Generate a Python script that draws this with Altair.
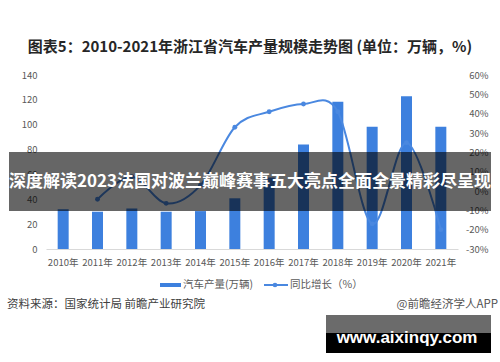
import altair as alt
import pandas as pd

years = ["2010年", "2011年", "2012年", "2013年", "2014年", "2015年",
         "2016年", "2017年", "2018年", "2019年", "2020年", "2021年"]
production = [32, 30, 32.6, 30, 30.5, 40.8, 57.5, 84, 118.5, 98.4, 123, 98.4]
growth = [None, -4.3, 7.4, -6.4, 3, 33, 41, 45, 41, -17, 25, -20]

title_text = "图表5：2010-2021年浙江省汽车产量规模走势图 (单位：万辆，%)"
legend_bar = "汽车产量(万辆)"
legend_line = "同比增长（%）"
source_text = "资料来源：国家统计局 前瞻产业研究院"
credit_text = "@前瞻经济学人APP"
banner_text = "深度解读2023法国对波兰巅峰赛事五大亮点全面全景精彩尽呈现"
site_text = "www.aixinqy.com"

FONT = "Noto Sans CJK SC"
BAR_C = "#3d80de"
LINE_C = "#4a88e0"
GRAY = "#595959"

df = pd.DataFrame({"year": years, "prod": production, "growth": growth})
line_df = df.dropna(subset=["growth"])

x_enc = alt.X("year:N", sort=years,
              scale=alt.Scale(paddingInner=0, paddingOuter=0),
              axis=alt.Axis(title=None, labelAngle=0, ticks=False, domainColor="#d9d9d9",
                            labelColor=GRAY, labelFontSize=9.5, labelPadding=8, labelFont=FONT))

bars = alt.Chart(df).mark_bar(color=BAR_C, size=11).encode(
    x=x_enc,
    y=alt.Y("prod:Q", scale=alt.Scale(domain=[0, 140]),
            axis=alt.Axis(title=None, values=list(range(0, 141, 20)), grid=False, domain=False,
                          ticks=False, tickSize=0, labelColor=GRAY, labelFontSize=9.5,
                          labelPadding=9, labelFont=FONT)),
)

line = alt.Chart(line_df).mark_line(
    color=LINE_C, strokeWidth=2, interpolate="cardinal",
    point=alt.OverlayMarkDef(color=LINE_C, filled=True, size=24, opacity=1),
).encode(
    x=alt.X("year:N", sort=years),
    y=alt.Y("growth:Q", scale=alt.Scale(domain=[-30, 60]),
            axis=alt.Axis(title=None, orient="right", values=list(range(-30, 61, 10)), grid=False,
                          domain=False, ticks=False, tickSize=0, labelColor=GRAY, labelFontSize=9.5,
                          labelAlign="right", labelPadding=30, labelFont=FONT,
                          labelExpr="datum.value + '%'")),
)

def txt(s, x, y, **kw):
    return alt.Chart(pd.DataFrame({"t": [s]})).mark_text(font=FONT, **kw).encode(
        x=alt.value(x), y=alt.value(y), text="t:N")

def box(x1, x2, y1, y2, color, opacity=1.0):
    return alt.Chart(pd.DataFrame({"a": [0]})).mark_rect(color=color, opacity=opacity).encode(
        x=alt.value(x1), x2=alt.value(x2), y=alt.value(y1), y2=alt.value(y2))

title = txt(title_text, 204, -28, fontSize=15, fontWeight="bold", color="#262626")

leg_rect = box(114, 135, 208, 212, BAR_C)
leg_line = alt.Chart(pd.DataFrame({"a": [0]})).mark_rule(color=LINE_C, strokeWidth=2).encode(
    x=alt.value(218), x2=alt.value(242), y=alt.value(210))
leg_dot = alt.Chart(pd.DataFrame({"a": [0]})).mark_point(color=LINE_C, filled=True, size=22, opacity=1).encode(
    x=alt.value(229), y=alt.value(210))
leg_t1 = txt(legend_bar, 137, 210, fontSize=10.5, color=GRAY, align="left", baseline="middle")
leg_t2 = txt(legend_line, 244, 210, fontSize=10.5, color=GRAY, align="left", baseline="middle")

src = txt(source_text, -39, 230, fontSize=11.5, color="#404040", align="left", baseline="middle")
credit = txt(credit_text, 452, 230, fontSize=11.5, color="#555555", align="right", baseline="middle")

wm_gray = box(280, 445, 240, 258, "#6b6b6b")
wm_black = box(280, 445, 258, 278, "#000000")
wm_text = alt.Chart(pd.DataFrame({"t": [site_text]})).mark_text(
    font="Liberation Sans", fontSize=17, fontWeight="bold", color="white", baseline="middle").encode(
    x=alt.value(361), y=alt.value(263), text="t:N")

banner = box(-37, 445, 77, 136, "#000000", 0.6)
banner_t = txt(banner_text, 204, 107, fontSize=17, fontWeight="bold", color="white", baseline="middle")

overlay = alt.layer(title, leg_rect, leg_line, leg_dot, leg_t1, leg_t2,
                    src, credit, wm_gray, wm_black, wm_text, banner, banner_t)

chart = alt.layer(
    alt.layer(bars, line).resolve_scale(y="independent"),
    overlay,
).properties(
    width=412, height=174,
    padding={"left": 46, "top": 75, "right": 42, "bottom": 113},
    autosize=alt.AutoSizeParams(type="none"),
    background="white",
).configure_view(stroke=None)

chart.save("out.html", embed_options={"renderer": "svg", "actions": False})
